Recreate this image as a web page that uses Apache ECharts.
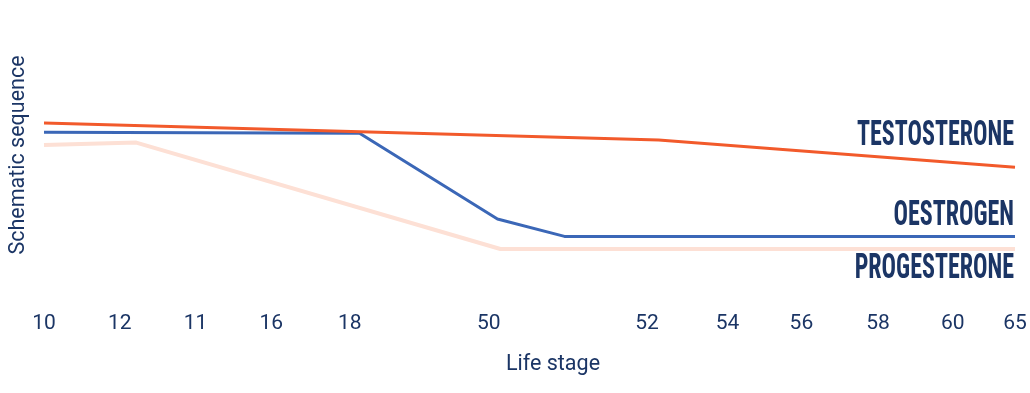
<!DOCTYPE html>
<html><head><meta charset="utf-8">
<script src="https://cdn.jsdelivr.net/npm/echarts@6/dist/echarts.min.js"></script>
<style>html,body{margin:0;padding:0;background:#fff}#c{width:1030px;height:393px}</style>
</head><body><div id="c"></div><script>
// Tick labels (life stage) and their positions along the schematic axis
const tickLabels = ['10','12','11','16','18','50','52','54','56','58','60','65'];
const tickPositions = [0,7.8,15.6,23.4,31.5,45.8,62.1,70.4,78.0,85.9,93.6,100];
// Hormone series (schematic position, schematic level)
const testosteroneX = [0,63.3,100];
const testosteroneY = [83.5,75,61.4];
const oestrogenX = [0,32.5,46.7,53.6,100];
const oestrogenY = [78.9,78.4,35.5,26.8,26.8];
const progesteroneX = [0,9.5,47,100];
const progesteroneY = [72.5,73.7,20.5,20.5];
const seriesNames = ['TESTOSTERONE','OESTROGEN','PROGESTERONE'];

const navy = '#1b3565';
const zip = (xs, ys) => xs.map((x,i)=>[x, ys[i]]);

const labelFont = 'bold 35px "Liberation Sans Narrow", "Roboto Condensed", "DejaVu Sans Condensed", sans-serif';
const cv = document.createElement('canvas').getContext('2d');
cv.font = labelFont;
const sx = 157 / cv.measureText('TESTOSTERONE').width;

const chart = echarts.init(document.getElementById('c'), null, {renderer:'canvas'});
chart.setOption({
  animation: false,
  backgroundColor: '#fff',
  grid: {left: 40, right: 15, top: 20, bottom: 103, containLabel: false},
  xAxis: {
    type: 'value', min: 0, max: 100,
    axisLine: {show:false}, axisTick: {show:false}, splitLine: {show:false},
    axisLabel: {
      customValues: tickPositions,
      formatter: v => { const i = tickPositions.indexOf(v); return i >= 0 ? tickLabels[i] : ''; },
      color: navy, fontSize: 21, fontFamily: 'Roboto', margin: 23,
      showMinLabel: true, showMaxLabel: true, hideOverlap: false
    },
    name: 'Life stage', nameLocation: 'middle', nameGap: 64,
    nameTextStyle: {color: navy, fontSize: 21.5, fontFamily: 'Roboto', padding: [0,0,0,47]}
  },
  yAxis: {
    type: 'value', min: 0, max: 135,
    axisLine: {show:false}, axisTick: {show:false}, splitLine: {show:false}, axisLabel: {show:false},
    name: 'Schematic sequence', nameLocation: 'middle', nameGap: 14,
    nameTextStyle: {color: navy, fontSize: 21.5, fontFamily: 'Roboto'}
  },
  series: [
    {name: seriesNames[2], type:'line', data: zip(progesteroneX, progesteroneY), symbol:'none',
     lineStyle:{color:'#fde0d5', width:4}, silent:true},
    {name: seriesNames[1], type:'line', data: zip(oestrogenX, oestrogenY), symbol:'none',
     lineStyle:{color:'#3b67b7', width:3}, silent:true},
    {name: seriesNames[0], type:'line', data: zip(testosteroneX, testosteroneY), symbol:'none',
     lineStyle:{color:'#f25a2b', width:3}, silent:true}
  ],
  graphic: [
    {type:'text', x:1014, y:136.5, scaleX: sx, style:{text: seriesNames[0], font: labelFont, fill: navy, align:'right', verticalAlign:'middle'}},
    {type:'text', x:1014, y:216.5, scaleX: sx, style:{text: seriesNames[1], font: labelFont, fill: navy, align:'right', verticalAlign:'middle'}},
    {type:'text', x:1014, y:269, scaleX: sx, style:{text: seriesNames[2], font: labelFont, fill: navy, align:'right', verticalAlign:'middle'}}
  ]
});
</script></body></html>
